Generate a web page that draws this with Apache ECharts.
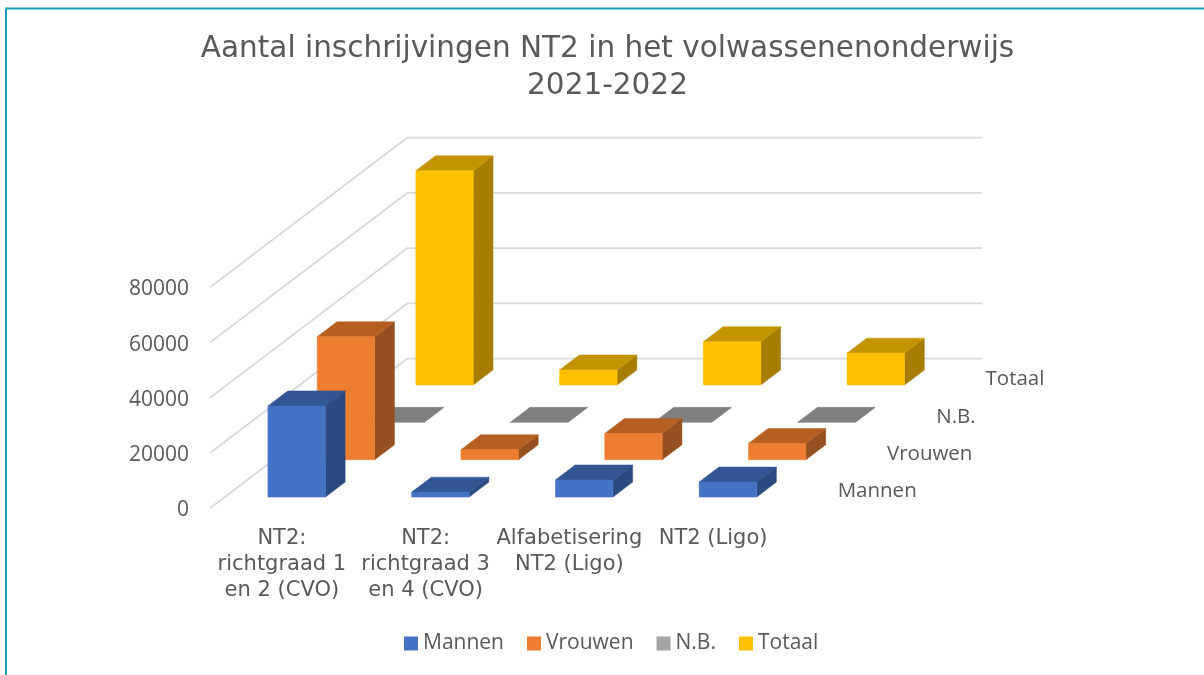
<!DOCTYPE html>
<html><head><meta charset="utf-8">
<style>html,body{margin:0;padding:0;background:#fff}#c{width:1204px;height:675px}</style>
<script src="https://cdn.jsdelivr.net/npm/echarts@6/dist/echarts.min.js"></script>
</head><body><div id="c"></div>
<script>
const titleLines = ['Aantal inschrijvingen NT2 in het volwassenenonderwijs', '2021-2022'];
const categories = ['NT2:\nrichtgraad 1\nen 2 (CVO)', 'NT2:\nrichtgraad 3\nen 4 (CVO)', 'Alfabetisering\nNT2 (Ligo)', 'NT2 (Ligo)'];
const yTicks = [0, 20000, 40000, 60000, 80000];
const seriesNames = ['Mannen', 'Vrouwen', 'N.B.', 'Totaal'];
const mannen = [33000, 1800, 6200, 5450];
const vrouwen = [44500, 3600, 9450, 5900];
const nb = [0, 0, 0, 0];
const totaal = [77500, 5400, 15600, 11500];
const seriesValues = [mannen, vrouwen, nb, totaal];
const frontColors = ['#4472C4', '#ED7D31', '#A5A5A5', '#FFC000'];
const topColors = ['#325594', '#B55F22', '#7F7F7F', '#C49400'];
const sideColors = ['#2A4A80', '#964F1E', '#6B6B6B', '#A67D00'];

const STEP_X = 49.3, STEP_Y = -37.4, SLOTS = 4, GAP = 0.3, DEPTH = 0.4, BAR = 0.4;

function boxRenderer(slot) {
  return function (params, api) {
    const cat = api.value(0), val = api.value(1);
    const bw = api.size([1, 0])[0] * BAR;
    const base = api.coord([cat, 0]), top = api.coord([cat, val]);
    const ox = (slot + GAP) * STEP_X, oy = (slot + GAP) * STEP_Y;
    const dx = DEPTH * STEP_X, dy = DEPTH * STEP_Y;
    const l = base[0] - bw / 2 + ox, r = l + bw, b = base[1] + oy, t = top[1] + oy;
    const poly = (pts, fill) => ({ type: 'polygon', shape: { points: pts }, style: { fill: fill, stroke: fill, lineWidth: 0.5 } });
    return { type: 'group', children: [
      poly([[r, b], [r + dx, b + dy], [r + dx, t + dy], [r, t]], sideColors[slot]),
      poly([[l, t], [r, t], [r + dx, t + dy], [l + dx, t + dy]], topColors[slot]),
      poly([[l, b], [r, b], [r, t], [l, t]], frontColors[slot])
    ] };
  };
}

function gridRenderer(params, api) {
  const cs = params.coordSys, y = api.coord([0, api.value(0)])[1];
  const bx = cs.x + SLOTS * STEP_X, by = y + SLOTS * STEP_Y;
  return { type: 'polyline', shape: { points: [[cs.x, y], [bx, by], [bx + cs.width, by]] },
    style: { stroke: '#D9D9D9', lineWidth: 1.75, fill: null } };
}

function depthLabelRenderer(params, api) {
  const cs = params.coordSys, i = api.value(0);
  return { type: 'text', style: {
    text: seriesNames[i], x: cs.x + cs.width + 28 + (i + 0.5) * STEP_X, y: cs.y + cs.height + 2 + (i + 0.5) * STEP_Y,
    fill: '#595959', font: '20.5px "Open Sans"', textAlign: 'left', textVerticalAlign: 'middle' } };
}

const chart = echarts.init(document.getElementById('c'), null, { renderer: 'canvas' });
chart.setOption({
  animation: false,
  backgroundColor: '#fff',
  title: { text: titleLines.join('\n'), left: 602.5, top: 26, textAlign: 'center',
    textStyle: { fontFamily: 'DejaVu Sans', fontSize: 29.5, fontWeight: 'normal', color: '#595959', lineHeight: 37 } },
  graphic: [{ type: 'polyline', shape: { points: [[6, 675], [6, 8.5], [1204, 8.5]] }, style: { stroke: '#12A1B3', lineWidth: 2, fill: null }, silent: true }],
  grid: { left: 210, top: 287.3, width: 575, height: 221 },
  legend: { left: 404, top: 633, padding: 0, icon: 'rect', itemWidth: 14, itemHeight: 14, itemGap: 23, data: seriesNames,
    textStyle: { fontFamily: 'Open Sans', fontSize: 21, color: '#595959' }, selectedMode: false },
  xAxis: { type: 'category', data: categories, axisLine: { show: false }, axisTick: { show: false },
    axisLabel: { fontFamily: 'DejaVu Sans', fontSize: 21, color: '#595959', lineHeight: 26, margin: 17, interval: 0 } },
  yAxis: { type: 'value', min: 0, max: 80000, interval: 20000, splitLine: { show: false }, axisLine: { show: false }, axisTick: { show: false },
    axisLabel: { fontFamily: 'Open Sans', fontSize: 21, color: '#595959', margin: 21, lineHeight: 4, verticalAlign: 'top', formatter: v => String(v) } },
  series: [
    { type: 'custom', name: 'grid', z: 1, silent: true, renderItem: gridRenderer, data: yTicks.map(v => [v]), encode: { y: 0 } },
    { type: 'custom', name: 'labels', z: 1, silent: true, renderItem: depthLabelRenderer, data: seriesNames.map((n, i) => [i]), encode: { x: 0 } }
  ].concat(seriesNames.map((n, s) => ({
    type: 'custom', name: n, z: 6 - s, itemStyle: { color: frontColors[s] },
    renderItem: boxRenderer(s), encode: { x: 0, y: 1 },
    data: seriesValues[s].map((v, i) => [i, v])
  })))
});
</script></body></html>
